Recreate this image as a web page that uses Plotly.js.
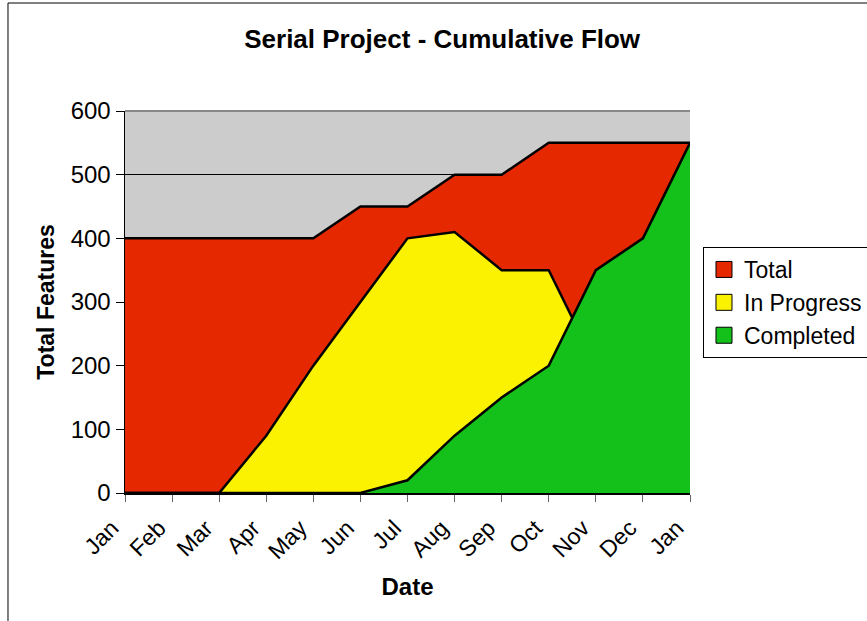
<!DOCTYPE html>
<html>
<head>
<meta charset="utf-8">
<script src="https://cdn.plot.ly/plotly-3.0.1.min.js"></script>
<style>html,body{margin:0;padding:0;background:#fff;}#chart{width:867px;height:621px;}</style>
</head>
<body>
<div id="chart"></div>
<script>
const months = ["Jan","Feb","Mar","Apr","May","Jun","Jul","Aug","Sep","Oct","Nov","Dec","Jan"];
const monthIndex = [0,1,2,3,4,5,6,7,8,9,10,11,12];
const totalValues = [400,400,400,400,400,450,450,500,500,550,550,550,550];
const inProgressValues = [0,0,0,90,200,300,400,410,350,350,200,200,200];
const completedValues = [0,0,0,0,0,0,20,90,150,200,350,400,550];
const seriesNames = ["Total","In Progress","Completed"];
const seriesColors = ["#E62800","#FAF200","#14C01A"];
const seriesValues = [totalValues, inProgressValues, completedValues];

const font = "Liberation Sans, Arial, sans-serif";
const data = [];
seriesValues.forEach((y, i) => data.push({
  type: "scatter", mode: "lines", name: seriesNames[i], x: monthIndex, y: y,
  fill: "tozeroy", fillcolor: seriesColors[i], showlegend: false,
  line: {color: "#000", width: 2.5}, hoverinfo: "skip"
}));
seriesNames.forEach((n, i) => data.push({
  type: "scatter", mode: "markers", name: n, x: [null], y: [null],
  marker: {symbol: "square", size: 17, color: seriesColors[i], line: {color: "#000", width: 1}},
  showlegend: true, hoverinfo: "skip"
}));
const layout = {
  width: 867, height: 621,
  margin: {l: 125, r: 177, t: 111, b: 128, autoexpand: false},
  paper_bgcolor: "#fff", plot_bgcolor: "#CCCCCC",
  font: {family: font, color: "#000", size: 24},
  title: {text: "<b>Serial Project - Cumulative Flow</b>", font: {size: 26, family: font},
    xref: "container", x: 0.51, xanchor: "center", yref: "container", y: 0.937, yanchor: "middle"},
  xaxis: {range: [0, 12], tickvals: monthIndex, ticktext: months, tickangle: -45,
    showgrid: false, zeroline: false, showline: true, linecolor: "#000", linewidth: 1.5,
    ticks: "outside", ticklen: 7, tickcolor: "#666", tickfont: {size: 23},
    ticklabelshift: -13, ticklabelstandoff: 4,
    title: {text: "<b>Date</b>", font: {size: 24}, standoff: 15}},
  yaxis: {range: [0, 600], dtick: 100, showgrid: true, gridcolor: "#000", gridwidth: 1,
    zeroline: false, showline: true, linecolor: "#000", linewidth: 1.5,
    ticks: "outside", ticklen: 8, tickcolor: "#000", tickfont: {size: 24},
    title: {text: "<b>Total Features</b>", font: {size: 23}, standoff: 9}},
  legend: {x: 1.023, xanchor: "left", y: 0.644, yanchor: "top",
    bordercolor: "#000", borderwidth: 1, bgcolor: "#fff", font: {size: 23},
    itemwidth: 30, tracegroupgap: 0},
  shapes: [
    {type: "line", xref: "paper", yref: "paper", x0: 0, x1: 1, y0: 1, y1: 1,
      line: {color: "#888", width: 2}},
    {type: "rect", xref: "paper", yref: "paper", x0: -0.2071, x1: 1.4, y0: -0.4, y1: 1.2827,
      line: {color: "#000", width: 1}, fillcolor: "rgba(0,0,0,0)"}
  ],
  showlegend: true
};
Plotly.newPlot("chart", data, layout, {displayModeBar: false, staticPlot: true});
</script>
</body>
</html>
